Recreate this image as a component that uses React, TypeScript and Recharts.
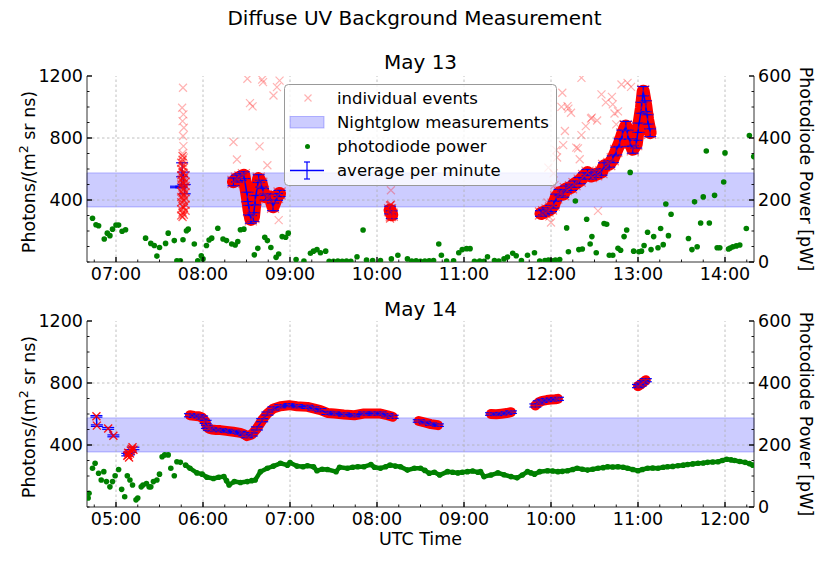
import React from 'react';
import {
  ComposedChart,
  Line,
  Scatter,
  XAxis,
  YAxis,
  ReferenceArea,
  ReferenceLine,
  ErrorBar,
} from 'recharts';

type Pt = { t: number; v: number; e: number };
type Pw = { t: number; p: number };

const FONT = '"DejaVu Sans", sans-serif';

// ---- axes ----
const may13Domain = [6 + 40 / 60, 14 + 20 / 60];
const may14Domain = [4 + 40 / 60, 12 + 20 / 60];
const may13Ticks = [6.75, 7, 7.25, 7.5, 7.75, 8, 8.25, 8.5, 8.75, 9, 9.25, 9.5, 9.75, 10, 10.25, 10.5, 10.75, 11, 11.25, 11.5, 11.75, 12, 12.25, 12.5, 12.75, 13, 13.25, 13.5, 13.75, 14, 14.25];
const may14Ticks = [4.75, 5, 5.25, 5.5, 5.75, 6, 6.25, 6.5, 6.75, 7, 7.25, 7.5, 7.75, 8, 8.25, 8.5, 8.75, 9, 9.25, 9.5, 9.75, 10, 10.25, 10.5, 10.75, 11, 11.25, 11.5, 11.75, 12, 12.25];
const may13Hours = [7, 8, 9, 10, 11, 12, 13, 14];
const may14Hours = [5, 6, 7, 8, 9, 10, 11, 12];
const photonTicks = [0, 100, 200, 300, 400, 500, 600, 700, 800, 900, 1000, 1100, 1200];
const photonLabels = [400, 800, 1200];
const photonGrid = [400, 800];
const powerTicks = [0, 50, 100, 150, 200, 250, 300, 350, 400, 450, 500, 550, 600];
const powerLabels = [0, 200, 400, 600];
const nightglow = [355, 575];

// ---- May 13: average per minute [t, value, error] ----
const may13Avg1 = [[7.69, 484, 5], [7.75, 484, 5], [7.76, 595, 45], [7.775, 540, 40], [7.79, 470, 30]];
const may13Avg2 = [[8.35, 517, 25], [8.39, 538, 22], [8.43, 548, 22], [8.47, 560, 22], [8.51, 420, 30], [8.53, 335, 30], [8.55, 275, 25], [8.58, 290, 28], [8.6, 399, 30], [8.64, 538, 25], [8.67, 505, 22], [8.69, 452, 22], [8.72, 420, 20], [8.75, 418, 20], [8.77, 420, 20], [8.805, 356, 25], [8.85, 420, 22], [8.88, 442, 20]];
const may13Avg3 = [[10.15, 335, 25], [10.17, 305, 25]];
const may13Avg4 = [[11.885, 313, 18], [11.92, 322, 18], [11.96, 332, 18], [12.0, 345, 20], [12.03, 370, 22], [12.06, 416, 22], [12.1, 448, 20], [12.14, 438, 20], [12.17, 470, 20], [12.23, 482, 20], [12.27, 502, 20], [12.33, 525, 20], [12.38, 555, 20], [12.42, 577, 20], [12.46, 555, 20], [12.52, 566, 20], [12.58, 580, 20], [12.61, 620, 20], [12.67, 632, 20], [12.71, 663, 22], [12.75, 716, 25], [12.79, 770, 25], [12.82, 823, 28], [12.86, 877, 30], [12.88, 823, 28], [12.91, 770, 25], [12.94, 727, 25], [12.98, 760, 25], [13.005, 866, 30], [13.04, 995, 35], [13.06, 1102, 30], [13.09, 1005, 35], [13.11, 920, 30], [13.14, 834, 25]];

// May 13: dense individual events (column at 07:45 and blob at 10:09)
const may13Dense = [[7.75, 300], [7.75, 340], [7.75, 385], [7.75, 420], [7.75, 455], [7.75, 500], [7.75, 530], [7.75, 560], [7.75, 600], [7.75, 640], [7.765, 290], [7.765, 320], [7.765, 360], [7.765, 410], [7.765, 445], [7.765, 480], [7.765, 515], [7.765, 545], [7.765, 580], [7.765, 620], [7.765, 660], [7.765, 684], [7.78, 305], [7.78, 350], [7.78, 395], [7.78, 430], [7.78, 470], [7.78, 505], [7.78, 540], [7.78, 575], [7.78, 610], [7.8, 330], [7.8, 370], [7.8, 410], [7.8, 450], [7.8, 490], [7.8, 520], [7.8, 560], [10.15, 280], [10.16, 300], [10.17, 320], [10.16, 345], [10.15, 365], [10.17, 290], [10.16, 370]];

// May 13: scattered individual events
const may13Sparse = [[7.77, 1124], [7.76, 995], [7.775, 952], [7.765, 909], [7.78, 866], [7.77, 813], [7.775, 748], [7.765, 700], [7.78, 674], [7.77, 640], [8.35, 774], [8.39, 661], [8.51, 1182], [8.54, 1025], [8.57, 1004], [8.65, 746], [8.68, 1177], [8.69, 1160], [8.74, 624], [8.81, 1074], [8.85, 1128], [8.88, 1170], [8.87, 270], [10.16, 463], [11.96, 384], [11.97, 609], [11.98, 293], [12.0, 255], [12.03, 572], [12.04, 496], [12.06, 722], [12.07, 674], [12.12, 1001], [12.13, 1092], [12.14, 754], [12.16, 845], [12.19, 1006], [12.2, 990], [12.23, 963], [12.29, 738], [12.31, 733], [12.33, 663], [12.35, 1188], [12.35, 819], [12.4, 877], [12.46, 926], [12.47, 931], [12.53, 913], [12.54, 330], [12.58, 1081], [12.63, 1030], [12.7, 1065], [12.71, 1017], [12.73, 958], [12.75, 888], [12.77, 972], [12.81, 1145], [12.88, 1156], [12.92, 1130]];

// May 13: photodiode power [t, pW]
const may13Power = [[6.73, 141], [6.77, 120], [6.8, 117], [6.865, 74], [6.9, 93], [6.93, 85], [6.96, 106], [7.0, 119], [7.03, 119], [7.07, 99], [7.11, 104], [7.34, 77], [7.4, 60], [7.44, 53], [7.47, 19], [7.5, 47], [7.57, 60], [7.6, 93], [7.67, 69], [7.7, 4], [7.74, 4], [7.77, 72], [7.81, 101], [7.83, 106], [7.9, 58], [7.94, 4], [7.98, 20], [8.0, 10], [8.04, 53], [8.07, 71], [8.1, 77], [8.17, 109], [8.23, 74], [8.27, 69], [8.33, 58], [8.37, 55], [8.4, 66], [8.43, 104], [8.47, 106], [8.59, 23], [8.63, 44], [8.71, 80], [8.74, 69], [8.78, 47], [8.84, 15], [8.87, 26], [8.91, 82], [8.95, 80], [8.98, 93], [9.07, 8], [9.16, 3], [9.235, 28], [9.27, 35], [9.31, 40], [9.35, 30], [9.41, 35], [9.45, 2], [9.5, 2], [9.55, 3], [9.6, 2], [9.65, 3], [9.7, 2], [9.77, 17], [9.84, 103], [9.88, 6], [9.95, 5], [10.04, 5], [10.165, 10], [10.24, 22], [10.35, 10], [10.4, 3], [10.45, 4], [10.5, 2], [10.55, 3], [10.6, 4], [10.65, 5], [10.71, 58], [10.74, 22], [10.8, 3], [10.88, 4], [10.94, 30], [10.98, 40], [11.03, 43], [11.07, 43], [11.12, 2], [11.18, 3], [11.23, 2], [11.27, 17], [11.35, 5], [11.4, 3], [11.46, 10], [11.5, 16], [11.56, 28], [11.6, 20], [11.66, 5], [11.73, 22], [11.81, 30], [11.87, 3], [11.93, 5], [11.97, 6], [12.01, 4], [12.05, 6], [12.1, 8], [12.18, 110], [12.2, 33], [12.28, 197], [12.32, 40], [12.36, 42], [12.41, 138], [12.45, 58], [12.47, 82], [12.52, 30], [12.61, 124], [12.64, 122], [12.67, 22], [12.71, 22], [12.77, 44], [12.8, 38], [12.84, 82], [12.87, 103], [12.91, 289], [12.95, 35], [13.01, 33], [13.04, 35], [13.07, 53], [13.11, 96], [13.15, 40], [13.18, 82], [13.23, 46], [13.26, 108], [13.29, 56], [13.32, 187], [13.35, 85], [13.38, 154], [13.58, 76], [13.62, 40], [13.65, 194], [13.68, 49], [13.72, 126], [13.75, 210], [13.785, 358], [13.82, 126], [13.88, 215], [13.91, 46], [13.94, 46], [13.985, 258], [14.0, 352], [14.04, 42], [14.06, 45], [14.09, 49], [14.13, 52], [14.17, 55], [14.245, 108], [14.28, 408], [14.33, 340]];

// ---- May 14 ----
const may14Avg1 = [[4.775, 585, 5], [4.78, 525, 5]];
const may14Avg2 = [[4.91, 507, 6], [4.97, 459, 6]];
const may14Avg3 = [[5.13, 338, 8], [5.15, 345, 8], [5.17, 362, 8], [5.2, 378, 8]];
const may14Avg4 = [[5.85, 592, 10], [5.9, 588, 10], [5.95, 585, 10], [5.99, 577, 10], [6.03, 549, 10], [6.045, 517, 10], [6.07, 505, 10], [6.1, 500, 10], [6.15, 497, 10], [6.2, 496, 10], [6.27, 491, 10], [6.35, 485, 10], [6.43, 478, 10], [6.47, 470, 10], [6.505, 457, 10], [6.56, 468, 10], [6.62, 507, 10], [6.68, 560, 10], [6.74, 603, 10], [6.81, 636, 10], [6.89, 650, 10], [6.99, 657, 10], [7.08, 650, 10], [7.2, 646, 10], [7.27, 636, 10], [7.35, 625, 10], [7.43, 607, 10], [7.51, 603, 10], [7.62, 597, 10], [7.74, 592, 10], [7.85, 603, 10], [7.97, 603, 10], [8.04, 603, 10], [8.12, 592, 10], [8.18, 582, 10]];
const may14Avg5 = [[8.48, 555, 8], [8.55, 545, 8], [8.62, 535, 8], [8.7, 528, 8]];
const may14Avg6 = [[9.31, 600, 8], [9.37, 598, 8], [9.43, 602, 8], [9.49, 606, 8], [9.54, 612, 8]];
const may14Avg7 = [[9.82, 655, 10], [9.86, 675, 10], [9.9, 685, 10], [9.95, 690, 10], [10.0, 693, 10], [10.05, 695, 10], [10.08, 698, 10]];
const may14Avg8 = [[11.0, 780, 10], [11.03, 790, 10], [11.06, 805, 10], [11.09, 818, 10]];

const may14Dense = [[4.775, 585], [4.78, 525], [4.91, 507], [4.97, 459], [5.13, 330], [5.14, 350], [5.15, 320], [5.16, 345], [5.17, 365], [5.19, 385], [5.2, 370], [5.14, 335], [5.18, 375]];

const may14PowerSparse = [[4.68, 29], [4.69, 44], [4.73, 125], [4.76, 141], [4.8, 109], [4.83, 87], [4.86, 114], [4.89, 82], [4.93, 65], [4.96, 82], [4.99, 101], [5.03, 121], [5.065, 57], [5.1, 33], [5.13, 101], [5.16, 87], [5.19, 71], [5.23, 23], [5.25, 29], [5.29, 65], [5.31, 71], [5.35, 76], [5.38, 65], [5.4, 65], [5.43, 82], [5.47, 87], [5.5, 106], [5.53, 162], [5.56, 168], [5.6, 168], [5.63, 125], [5.67, 101], [5.7, 146], [5.74, 144]];
const may14PowerDense = [[5.8, 135], [5.85, 125], [5.93, 110], [5.99, 106], [6.045, 96], [6.12, 92], [6.18, 96], [6.24, 98], [6.27, 85], [6.3, 71], [6.36, 82], [6.43, 79], [6.51, 82], [6.56, 85], [6.6, 87], [6.66, 114], [6.74, 125], [6.81, 132], [6.89, 141], [6.97, 135], [7.0, 143], [7.08, 132], [7.15, 130], [7.2, 133], [7.27, 130], [7.31, 117], [7.37, 122], [7.43, 121], [7.53, 114], [7.57, 128], [7.66, 125], [7.72, 128], [7.78, 130], [7.85, 130], [7.93, 137], [7.97, 128], [8.04, 125], [8.1, 130], [8.15, 135], [8.21, 132], [8.27, 130], [8.35, 119], [8.43, 125], [8.5, 125], [8.55, 118], [8.6, 109], [8.66, 112], [8.72, 103], [8.81, 114], [8.87, 112], [8.93, 110], [8.98, 112], [9.04, 114], [9.1, 116], [9.16, 112], [9.19, 114], [9.23, 98], [9.31, 103], [9.39, 110], [9.46, 104], [9.54, 98], [9.61, 94], [9.67, 103], [9.73, 114], [9.77, 110], [9.81, 106], [9.87, 114], [9.96, 117], [10.02, 116], [10.08, 114], [10.13, 115], [10.19, 117], [10.25, 121], [10.3, 125], [10.36, 122], [10.42, 119], [10.48, 122], [10.54, 125], [10.6, 127], [10.65, 130], [10.71, 129], [10.77, 130], [10.83, 128], [10.88, 125], [10.94, 121], [11.0, 117], [11.05, 121], [11.11, 125], [11.17, 126], [11.23, 125], [11.29, 128], [11.34, 130], [11.4, 131], [11.46, 133], [11.52, 135], [11.57, 137], [11.63, 139], [11.69, 141], [11.75, 142], [11.8, 144], [11.86, 145], [11.92, 146], [11.97, 150], [12.02, 154], [12.07, 152], [12.11, 150], [12.17, 147], [12.23, 144], [12.28, 140], [12.32, 135]];

const toPts = (rows: number[][]): Pt[] => rows.map(([t, v, e]) => ({ t, v, e: e ?? 0 }));
const toPw = (rows: number[][]): Pw[] => rows.map(([t, p]) => ({ t, p }));

const isMajor = (v: number) => Math.abs(v - Math.round(v)) < 1e-6;
const hhmm = (v: number) => {
  const h = Math.floor(v + 1e-6);
  const m = Math.round((v - h) * 60);
  return `${String(h).padStart(2, '0')}:${String(m).padStart(2, '0')}`;
};

const TICK_FS = 17.5;
const frame = { stroke: '#333', strokeWidth: 1 };

function BottomTick(props: any) {
  const { x, y, payload } = props;
  const major = isMajor(payload.value);
  return (
    <g>
      <line x1={x} x2={x} y1={y} y2={y - (major ? 5 : 2.5)} stroke="#000" strokeWidth={major ? 1.4 : 0.9} />
      {major && (
        <text x={x} y={y + 18} textAnchor="middle" fontSize={TICK_FS} fontFamily={FONT} fill="#000">
          {hhmm(payload.value)}
        </text>
      )}
    </g>
  );
}

function TopTick(props: any) {
  const { x, y, payload } = props;
  const major = isMajor(payload.value);
  return <line x1={x} x2={x} y1={y} y2={y + (major ? 5 : 2.5)} stroke="#000" strokeWidth={major ? 1.4 : 0.9} />;
}

const makeSideTick = (labels: number[], side: 1 | -1) =>
  function SideTick(props: any) {
    const { x, y, payload } = props;
    const major = labels.includes(payload.value);
    return (
      <g>
        <line x1={x} x2={x + side * (major ? 5 : 2.5)} y1={y} y2={y} stroke="#000" strokeWidth={major ? 1.4 : 0.9} />
        {major && (
          <text x={x - side * 4} y={y} dy={6.2} textAnchor={side === 1 ? 'end' : 'start'} fontSize={TICK_FS} fontFamily={FONT} fill="#000">
            {payload.value}
          </text>
        )}
      </g>
    );
  };

const LeftTick = makeSideTick(photonLabels, 1);
const RightTick = makeSideTick(powerLabels, -1);

const xMark = (size: number, opacity: number, sw = 1.2) =>
  function XMark(props: any) {
    const { cx, cy, index } = props;
    if (cx == null || cy == null) return <g key={`n${index}`} />;
    const h = size / 2;
    return (
      <path
        key={`x${index}`}
        d={`M${cx - h},${cy - h}L${cx + h},${cy + h}M${cx - h},${cy + h}L${cx + h},${cy - h}`}
        stroke="#ff0000"
        strokeOpacity={opacity}
        strokeWidth={sw}
        fill="none"
      />
    );
  };

function GreenDot(props: any) {
  const { cx, cy } = props;
  if (cx == null || cy == null) return <g />;
  return <circle cx={cx} cy={cy} r={2.8} fill="#008000" />;
}

interface PanelProps {
  top: number;
  height: number;
  marginTop: number;
  domain: number[];
  ticks: number[];
  hours: number[];
  avg: number[][][];
  band: number[][][];
  bandWidth: number;
  markSize: number;
  dense: number[][];
  denseOpacity: number;
  sparse: number[][];
  power: number[][];
  powerLine?: number[][];
}

function Panel({ top, height, marginTop, domain, ticks, hours, avg, band, bandWidth, markSize, dense, denseOpacity, sparse, power, powerLine }: PanelProps) {
  const bandDot = xMark(markSize, 0.5, 1.2);
  return (
    <div style={{ position: 'absolute', left: 0, top }}>
      <ComposedChart width={830} height={height} margin={{ top: marginTop, right: 0, bottom: 0, left: 0 }}>
        <XAxis
          xAxisId="b"
          dataKey="t"
          type="number"
          domain={domain}
          ticks={ticks}
          interval={0}
          allowDataOverflow
          tickSize={0}
          tickMargin={0}
          tickLine={false}
          height={28}
          axisLine={frame}
          tick={BottomTick}
        />
        <XAxis
          xAxisId="top"
          orientation="top"
          type="number"
          domain={domain}
          ticks={ticks}
          interval={0}
          allowDataOverflow
          tickSize={0}
          tickMargin={0}
          tickLine={false}
          height={0}
          axisLine={frame}
          tick={TopTick}
        />
        <YAxis
          yAxisId="ph"
          dataKey="v"
          type="number"
          domain={[0, 1200]}
          ticks={photonTicks}
          interval={0}
          allowDataOverflow
          tickSize={0}
          tickMargin={0}
          tickLine={false}
          width={87}
          axisLine={frame}
          tick={LeftTick}
        />
        <YAxis
          yAxisId="pw"
          orientation="right"
          dataKey="p"
          type="number"
          domain={[0, 600]}
          ticks={powerTicks}
          interval={0}
          allowDataOverflow
          tickSize={0}
          tickMargin={0}
          tickLine={false}
          width={76}
          axisLine={frame}
          tick={RightTick}
        />
        <ReferenceArea
          xAxisId="b"
          yAxisId="ph"
          y1={nightglow[0]}
          y2={nightglow[1]}
          fill="#0000ff"
          fillOpacity={0.2}
          stroke="#0000ff"
          strokeOpacity={0.25}
        />
        {hours.map((h) => (
          <ReferenceLine key={`h${h}`} xAxisId="b" yAxisId="ph" x={h} stroke="#b0b0b0" strokeWidth={0.8} strokeDasharray="2.5 2.5" />
        ))}
        {photonGrid.map((g) => (
          <ReferenceLine key={`g${g}`} xAxisId="b" yAxisId="ph" y={g} stroke="#b0b0b0" strokeWidth={0.8} strokeDasharray="2.5 2.5" />
        ))}
        {powerLine && (
          <Line
            xAxisId="b"
            yAxisId="pw"
            data={toPw(powerLine)}
            dataKey="p"
            stroke="#008000"
            strokeWidth={4.5}
            strokeLinejoin="round"
            dot={false}
            isAnimationActive={false}
          />
        )}
        <Scatter xAxisId="b" yAxisId="pw" data={toPw(power)} shape={GreenDot} isAnimationActive={false} />
        {powerLine && <Scatter xAxisId="b" yAxisId="pw" data={toPw(powerLine)} shape={GreenDot} isAnimationActive={false} />}
        <Scatter xAxisId="b" yAxisId="ph" data={toPts(sparse)} shape={xMark(8, 0.3)} isAnimationActive={false} />
        <Scatter xAxisId="b" yAxisId="ph" data={toPts(dense)} shape={xMark(8, denseOpacity, 1.4)} isAnimationActive={false} />
        {band.map((seg, i) => (
          <Line
            key={`band${i}`}
            xAxisId="b"
            yAxisId="ph"
            data={toPts(seg)}
            dataKey="v"
            stroke="#ff0000"
            strokeWidth={bandWidth}
            strokeLinejoin="round"
            strokeLinecap="round"
            dot={bandDot}
            isAnimationActive={false}
          />
        ))}
        {avg.map((seg, i) => (
          <Line
            key={`avg${i}`}
            xAxisId="b"
            yAxisId="ph"
            data={toPts(seg)}
            dataKey="v"
            stroke="#0000ff"
            strokeWidth={1.5}
            dot={false}
            isAnimationActive={false}
          >
            <ErrorBar dataKey="e" direction="y" width={6} stroke="#0000ff" strokeWidth={1.2} />
          </Line>
        ))}
      </ComposedChart>
    </div>
  );
}

function PhotonLabel({ cx, cy }: { cx: number; cy: number }) {
  return (
    <text transform={`translate(${cx},${cy}) rotate(-90)`} textAnchor="middle" dy={6} fontSize={17.5}>
      Photons/(m<tspan dy={-7} fontSize={12.5}>2</tspan>
      <tspan dy={7}> sr ns)</tspan>
    </text>
  );
}

function PowerLabel({ cx, cy }: { cx: number; cy: number }) {
  return (
    <text transform={`translate(${cx},${cy}) rotate(90)`} textAnchor="middle" dy={6} fontSize={17.5}>
      Photodiode Power [pW]
    </text>
  );
}

function LegendBox() {
  const tx = 337;
  return (
    <g fontSize={16.5}>
      <rect x={284.5} y={84.5} width={272} height={101} rx={4} fill="#ffffff" fillOpacity={0.8} stroke="#999" strokeWidth={1} />
      <path d="M304.5,94.5L311.5,101.5M304.5,101.5L311.5,94.5" stroke="#ff0000" strokeOpacity={0.3} strokeWidth={1.2} />
      <text x={tx} y={104}>individual events</text>
      <rect x={290} y={116.5} width={34} height={11.5} fill="#0000ff" fillOpacity={0.2} stroke="#0000ff" strokeOpacity={0.25} />
      <text x={tx} y={128}>Nightglow measurements</text>
      <circle cx={307.5} cy={146.5} r={2.5} fill="#008000" />
      <text x={tx} y={152}>photodiode power</text>
      <line x1={290} x2={324} y1={170.5} y2={170.5} stroke="#0000ff" strokeWidth={1.5} />
      <line x1={307} x2={307} y1={162} y2={179} stroke="#0000ff" strokeWidth={1.2} />
      <line x1={304} x2={310} y1={162} y2={162} stroke="#0000ff" strokeWidth={1.2} />
      <line x1={304} x2={310} y1={179} y2={179} stroke="#0000ff" strokeWidth={1.2} />
      <text x={tx} y={176}>average per minute</text>
    </g>
  );
}

export default function App() {
  return (
    <div style={{ position: 'absolute', left: 0, top: 0, width: 830, height: 565, background: '#fff', fontFamily: FONT }}>
      <Panel
        top={0}
        height={290}
        marginTop={76}
        domain={may13Domain}
        ticks={may13Ticks}
        hours={may13Hours}
        avg={[may13Avg1, may13Avg2, may13Avg3, may13Avg4]}
        band={[may13Avg2, may13Avg3, may13Avg4]}
        bandWidth={13}
        markSize={12}
        dense={may13Dense}
        denseOpacity={0.6}
        sparse={may13Sparse}
        power={may13Power}
      />
      <Panel
        top={290}
        height={245}
        marginTop={31}
        domain={may14Domain}
        ticks={may14Ticks}
        hours={may14Hours}
        avg={[may14Avg1, may14Avg2, may14Avg3, may14Avg4, may14Avg5, may14Avg6, may14Avg7, may14Avg8]}
        band={[may14Avg4, may14Avg5, may14Avg6, may14Avg7, may14Avg8]}
        bandWidth={10}
        markSize={7}
        dense={may14Dense}
        denseOpacity={0.9}
        sparse={[]}
        power={may14PowerSparse}
        powerLine={may14PowerDense}
      />
      <svg width={830} height={565} style={{ position: 'absolute', left: 0, top: 0, pointerEvents: 'none' }} fontFamily={FONT} fill="#000">
        <text x={414.5} y={24.6} textAnchor="middle" fontSize={20}>Diffuse UV Background Measurement</text>
        <text x={420.5} y={68.6} textAnchor="middle" fontSize={20}>May 13</text>
        <text x={420.5} y={316.3} textAnchor="middle" fontSize={20}>May 14</text>
        <text x={420.5} y={545} textAnchor="middle" fontSize={17.5}>UTC Time</text>
        <PhotonLabel cx={29} cy={172} />
        <PhotonLabel cx={29} cy={417} />
        <PowerLabel cx={806} cy={169} />
        <PowerLabel cx={806} cy={414} />
        <LegendBox />
      </svg>
    </div>
  );
}
